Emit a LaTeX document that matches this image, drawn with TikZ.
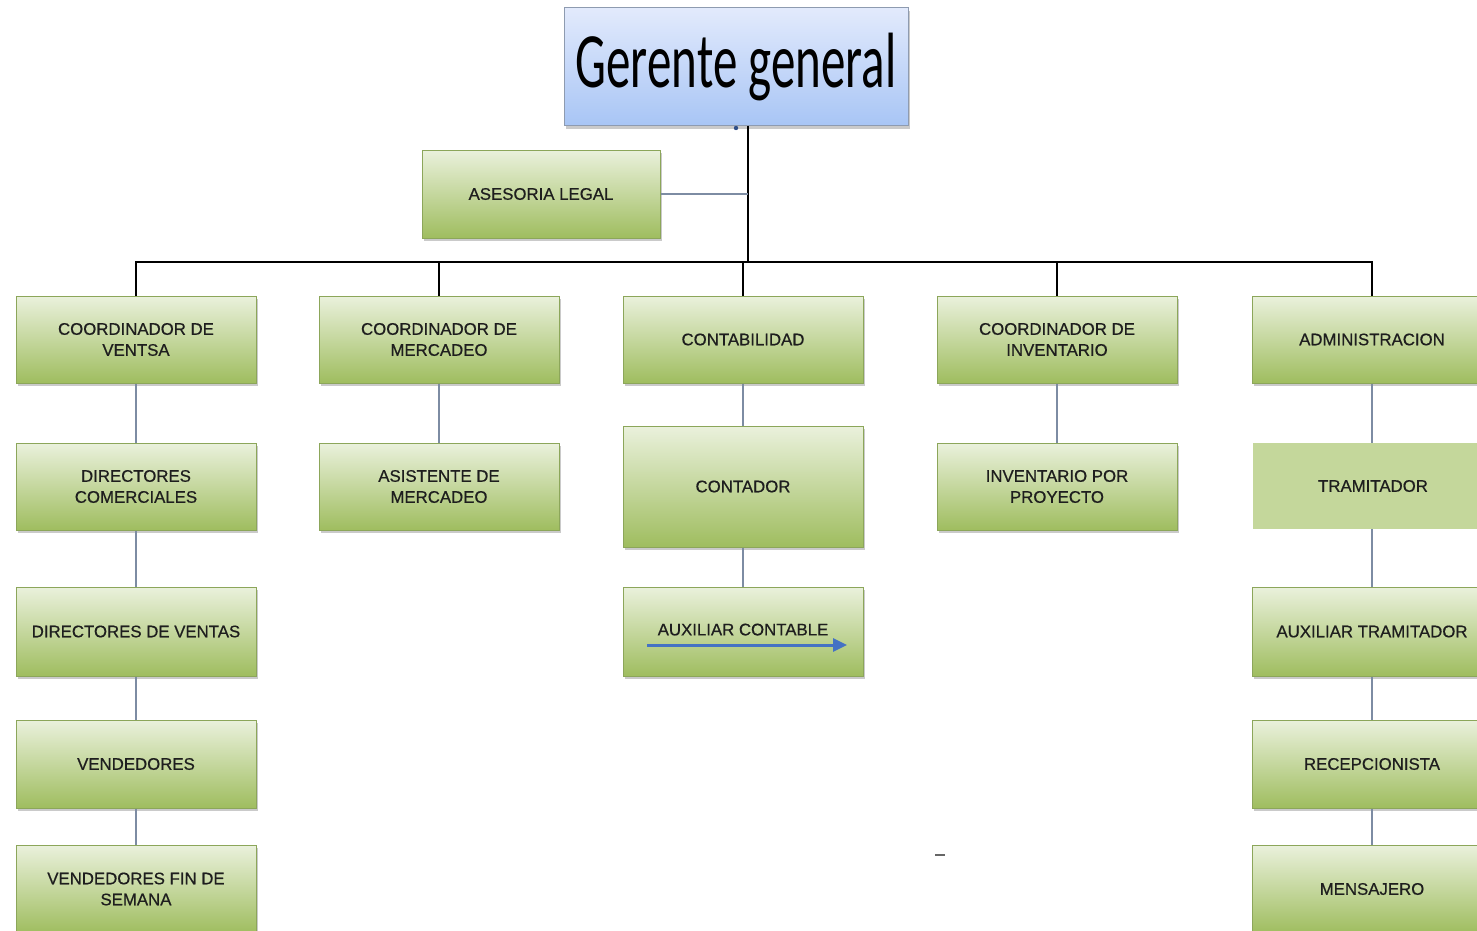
\documentclass[tikz,border=0pt]{standalone}
\usepackage{fontspec}
\usepackage{graphicx}
\setmainfont{Liberation Sans}[FakeBold=0.6]
\newfontfamily\calib{Carlito}
\usetikzlibrary{shadows,arrows.meta}
\definecolor{gtop}{HTML}{EAF1DC}
\definecolor{gbot}{HTML}{9FBD5F}
\definecolor{gbord}{HTML}{8CA65A}
\definecolor{btop}{HTML}{E2EAFC}
\definecolor{bbot}{HTML}{A8C5F5}
\definecolor{bbord}{HTML}{8E9BB0}
\definecolor{conn}{HTML}{7D8CA3}
\definecolor{tram}{HTML}{C4D79B}
\definecolor{arr}{HTML}{4472C4}
\definecolor{txt}{HTML}{1E1E1E}
\begin{document}
\begin{tikzpicture}[x=1pt,y=-1pt,
  gbox/.style={draw=gbord, line width=1pt, top color=gtop, bottom color=gbot,
    minimum width=240pt, minimum height=87pt, inner sep=0pt, align=center,
    font=\fontsize{16.8}{21}\selectfont, text=txt,
    drop shadow={shadow xshift=1.5pt, shadow yshift=-3pt, opacity=0.35, fill=black!60}},
  flatbox/.style={fill=tram, minimum width=240pt, minimum height=86pt, inner sep=0pt,
    align=center, font=\fontsize{16.8}{21}\selectfont, text=txt},
  bbox/.style={draw=bbord, line width=1pt, top color=btop, bottom color=bbot,
    minimum width=344pt, minimum height=118pt, inner sep=0pt, align=center,
    drop shadow={shadow xshift=2pt, shadow yshift=-3pt, opacity=0.35, fill=black!60}},
  mainline/.style={draw=black, line width=2pt},
  subline/.style={draw=conn, line width=1.8pt},
  bluearrow/.style={draw=arr, line width=3pt, -{Triangle[length=14pt,width=13pt]}},
]
\useasboundingbox (0,0) rectangle (1477,931);
\clip (0,0) rectangle (1477,931);

% top
\node[bbox] (ger) at (736,67) {\calib\fontsize{49}{49}\selectfont\scalebox{1}[1.6]{Gerente general}};
\node[gbox, minimum width=238pt, minimum height=88pt] (ase) at (541,194) {ASESORIA LEGAL};

% row 1
\node[gbox] (c1) at (136,339.5) {COORDINADOR DE\\VENTSA};
\node[gbox] (c2) at (439,339.5) {COORDINADOR DE\\MERCADEO};
\node[gbox] (c3) at (743,339.5) {CONTABILIDAD};
\node[gbox] (c4) at (1057,339.5) {COORDINADOR DE\\INVENTARIO};
\node[gbox] (c5) at (1372,339.5) {ADMINISTRACION};

% column 1
\node[gbox] (v2) at (136,486.5) {DIRECTORES\\COMERCIALES};
\node[gbox, minimum height=89pt] (v3) at (136,631.5) {DIRECTORES DE VENTAS};
\node[gbox, minimum height=88pt] (v4) at (136,764) {VENDEDORES};
\node[gbox, minimum height=88pt] (v5) at (136,889) {VENDEDORES FIN DE\\SEMANA};

% column 2
\node[gbox] (m2) at (439,486.5) {ASISTENTE DE\\MERCADEO};

% column 3
\node[gbox, minimum height=121pt] (k2) at (743,486.5) {CONTADOR};
\node[gbox, minimum height=89pt] (k3) at (743,631.5) {\raisebox{4pt}{AUXILIAR CONTABLE}};

% column 4
\node[gbox] (i2) at (1057,486.5) {INVENTARIO POR\\PROYECTO};

% column 5
\node[flatbox] (a2) at (1373,486) {TRAMITADOR};
\node[gbox, minimum height=89pt] (a3) at (1372,631.5) {AUXILIAR TRAMITADOR};
\node[gbox, minimum height=88pt] (a4) at (1372,764) {RECEPCIONISTA};
\node[gbox, minimum height=88pt] (a5) at (1372,889) {MENSAJERO};

% connectors
\coordinate (gtap) at (748,126);
\coordinate (bus) at (748,262);
\path[mainline] (gtap) -- (bus);
\path[mainline] (c1.north) -- (c1.north |- bus) -- (c5.north |- bus) -- (c5.north);
\path[mainline] (c2.north) -- (c2.north |- bus);
\path[mainline] (c3.north) -- (c3.north |- bus);
\path[mainline] (c4.north) -- (c4.north |- bus);
\path[subline, line width=1.3pt] (ase.east) -- (ase.east -| gtap);
\fill[arr!70!black] (736,128) circle (2.2pt);

\path[subline] (c1.south) -- (v2.north);
\path[subline] (v2.south) -- (v3.north);
\path[subline] (v3.south) -- (v4.north);
\path[subline] (v4.south) -- (v5.north);
\path[subline] (c2.south) -- (m2.north);
\path[subline] (c3.south) -- (k2.north);
\path[subline] (k2.south) -- (k3.north);
\path[subline] (c4.south) -- (i2.north);
\path[subline] (c5.south) -- (c5.south |- a2.north);
\path[subline] (c5.south |- a2.south) -- (a3.north);
\path[subline] (a3.south) -- (a4.north);
\path[subline] (a4.south) -- (a5.north);

% blue arrow in AUXILIAR CONTABLE
\coordinate (ar1) at (647,645);
\coordinate (ar2) at (847,645);
\path[bluearrow] (ar1) -- (ar2);

% stray mark
\coordinate (m1) at (935,855);
\coordinate (m2e) at (945,855);
\draw[black!60, line width=2pt] (m1) -- (m2e);
\end{tikzpicture}
\end{document}
